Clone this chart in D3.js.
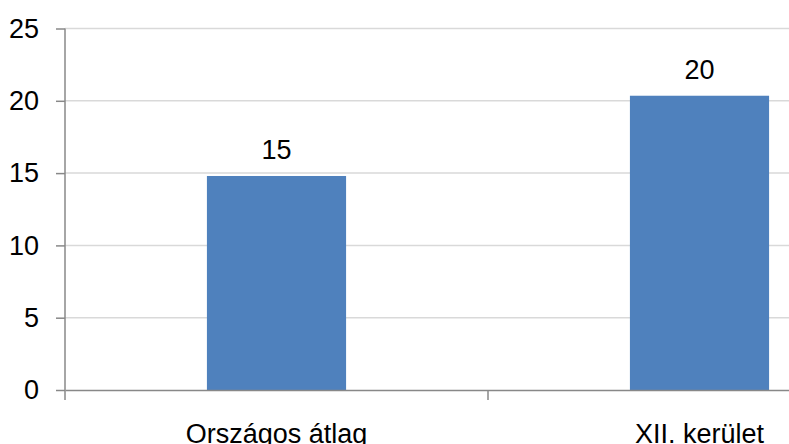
<!DOCTYPE html>
<html><head><meta charset="utf-8">
<script src="https://cdn.jsdelivr.net/npm/d3@7"></script>
<style>html,body{margin:0;padding:0;background:#fff;}svg{display:block;}</style>
</head><body>
<svg id="c" width="789" height="444"></svg>
<script>
const categories = ["Országos átlag", "XII. kerület"];
const values = [14.8, 20.35];
const valueLabels = ["15", "20"];
const yTicks = [0, 5, 10, 15, 20, 25];

(function () {
const svg = d3.select("#c");
const font = "'Liberation Sans', Arial, sans-serif";
const fs = 27;
const mLeft = 65, mRight = 911, mTop = 28.5, mBottom = 390;

const y = d3.scaleLinear().domain([0, 25]).range([mBottom, mTop]);
const x = d3.scaleBand().domain(categories).range([mLeft, mRight]).padding(0);
const barW = x.bandwidth() * 0.329;

// gridlines
svg.append("g").selectAll("line").data(yTicks.filter(d => d > 0)).join("line")
  .attr("x1", mLeft).attr("x2", 789)
  .attr("y1", d => y(d)).attr("y2", d => y(d))
  .attr("stroke", "#d9d9d9").attr("stroke-width", 1.5);

// bars
svg.append("g").selectAll("rect").data(values).join("rect")
  .attr("x", (d, i) => x(categories[i]) + (x.bandwidth() - barW) / 2)
  .attr("width", barW)
  .attr("y", d => y(d))
  .attr("height", d => y(0) - y(d))
  .attr("fill", "#4f81bd");

// y axis
const yAxis = svg.append("g").attr("transform", `translate(${mLeft},0)`)
  .call(d3.axisLeft(y).tickValues(yTicks).tickSize(9).tickPadding(17).tickSizeOuter(0));
yAxis.select(".domain").attr("stroke", "#888").attr("stroke-width", 1.5)
  .attr("d", `M0,${mTop}V${mBottom + 10}`);
yAxis.selectAll(".tick line").attr("stroke", "#888").attr("stroke-width", 1.5);
yAxis.selectAll(".tick text").attr("font-family", font).attr("font-size", fs).attr("fill", "#000");

// x axis
const xAxis = svg.append("g").attr("transform", `translate(0,${mBottom})`)
  .call(d3.axisBottom(x).tickSize(0).tickPadding(0).tickSizeOuter(0));
xAxis.select(".domain").attr("stroke", "#888").attr("stroke-width", 1.5);
xAxis.selectAll(".tick text").attr("font-family", font).attr("font-size", fs).attr("fill", "#000")
  .attr("dy", null).attr("y", 53);
// category separator ticks
svg.append("g").selectAll("line").data(categories.slice(1)).join("line")
  .attr("x1", d => x(d)).attr("x2", d => x(d))
  .attr("y1", mBottom).attr("y2", mBottom + 10)
  .attr("stroke", "#888").attr("stroke-width", 1.5);

// value labels
svg.append("g").selectAll("text").data(values).join("text")
  .attr("x", (d, i) => x(categories[i]) + x.bandwidth() / 2)
  .attr("y", d => y(d) - 17)
  .attr("text-anchor", "middle")
  .attr("font-family", font).attr("font-size", fs).attr("fill", "#000")
  .text((d, i) => valueLabels[i]);
})();
</script>
</body></html>
